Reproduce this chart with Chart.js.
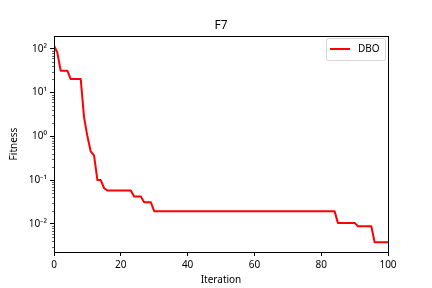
<!DOCTYPE html>
<html>
<head>
<meta charset="utf-8">
<script src="https://cdn.jsdelivr.net/npm/chart.js@4.4.0/dist/chart.umd.min.js"></script>
<style>
html, body { margin: 0; padding: 0; background: #fff; }
</style>
</head>
<body>
<canvas id="myChart" width="432" height="288"></canvas>
<script>
const chartTitle = 'F7';
const seriesName = 'DBO';
const xLabel = 'Iteration';
const yLabel = 'Fitness';
const xTicks = [0, 20, 40, 60, 80, 100];
const yRange = [0.00227, 196];

// best fitness per iteration, 0..100
const fitness = [
    117, 82, 31.5, 31.5, 31.5, 20.3, 20.3, 20.3, 20.3, 2.7,
    1.0, 0.45, 0.36, 0.1, 0.1, 0.065, 0.058, 0.058, 0.058, 0.058,
    0.058, 0.058, 0.058, 0.058, 0.042, 0.042, 0.042, 0.031, 0.031, 0.031,
    0.0195, 0.0195, 0.0195, 0.0195, 0.0195, 0.0195, 0.0195, 0.0195, 0.0195, 0.0195,
    0.0195, 0.0195, 0.0195, 0.0195, 0.0195, 0.0195, 0.0195, 0.0195, 0.0195, 0.0195,
    0.0195, 0.0195, 0.0195, 0.0195, 0.0195, 0.0195, 0.0195, 0.0195, 0.0195, 0.0195,
    0.0195, 0.0195, 0.0195, 0.0195, 0.0195, 0.0195, 0.0195, 0.0195, 0.0195, 0.0195,
    0.0195, 0.0195, 0.0195, 0.0195, 0.0195, 0.0195, 0.0195, 0.0195, 0.0195, 0.0195,
    0.0195, 0.0195, 0.0195, 0.0195, 0.0195, 0.0105, 0.0105, 0.0105, 0.0105, 0.0105,
    0.0105, 0.0088, 0.0088, 0.0088, 0.0088, 0.0088, 0.0038, 0.0038, 0.0038, 0.0038,
    0.0038
];

const FONT = "'Noto Sans', 'DejaVu Sans', sans-serif";
const sup = { '-': '\u207B', '0': '\u2070', '1': '\u00B9', '2': '\u00B2', '3': '\u00B3' };

function isDecade(v) {
    const l = Math.log10(v);
    return Math.abs(l - Math.round(l)) < 1e-9;
}

const framePlugin = {
    id: 'frame',
    afterDraw(chart) {
        const ctx = chart.ctx;
        const a = chart.chartArea;
        const ys = chart.scales.y;
        ctx.save();
        // minor ticks on the log axis
        ctx.strokeStyle = '#000';
        ctx.lineWidth = 0.6;
        ys.ticks.forEach(t => {
            if (isDecade(t.value)) return;
            const py = Math.round(ys.getPixelForValue(t.value)) + 0.5;
            ctx.beginPath();
            ctx.moveTo(a.left, py);
            ctx.lineTo(a.left - 2, py);
            ctx.stroke();
        });
        // axes box
        ctx.lineWidth = 1;
        ctx.strokeRect(Math.round(a.left) + 0.5, Math.round(a.top) + 0.5,
            Math.round(a.right - a.left), Math.round(a.bottom - a.top));
        // title
        ctx.fillStyle = '#000';
        ctx.font = '12px ' + FONT;
        ctx.textAlign = 'center';
        ctx.textBaseline = 'middle';
        ctx.fillText(chartTitle, (a.left + a.right) / 2, a.top - 10);
        // legend
        const bw = 59, bh = 22;
        const bx = a.right - 3 - bw, by = a.top + 2;
        ctx.beginPath();
        ctx.roundRect(bx + 0.5, by + 0.5, bw, bh, 2);
        ctx.fillStyle = 'rgba(255,255,255,0.8)';
        ctx.fill();
        ctx.strokeStyle = '#d6d6d6';
        ctx.lineWidth = 1;
        ctx.stroke();
        ctx.strokeStyle = '#ff0000';
        ctx.lineWidth = 2;
        ctx.beginPath();
        ctx.moveTo(bx + 4, by + bh / 2);
        ctx.lineTo(bx + 24, by + bh / 2);
        ctx.stroke();
        ctx.fillStyle = '#000';
        ctx.font = '10px ' + FONT;
        ctx.textAlign = 'left';
        ctx.fillText(seriesName, bx + 32, by + bh / 2 + 0.5);
        ctx.restore();
    }
};

const ctx = document.getElementById('myChart').getContext('2d');
const myChart = new Chart(ctx, {
    type: 'line',
    data: {
        datasets: [{
            label: seriesName,
            data: fitness.map((v, i) => ({ x: i, y: v })),
            borderColor: '#ff0000',
            borderWidth: 2,
            borderJoinStyle: 'round',
            pointRadius: 0,
            tension: 0,
            fill: false
        }]
    },
    options: {
        responsive: false,
        animation: false,
        layout: { padding: { left: 0, right: 44, top: 36, bottom: 0 } },
        plugins: {
            legend: { display: false },
            title: { display: false },
            tooltip: { enabled: false }
        },
        scales: {
            x: {
                type: 'linear',
                min: 0,
                max: 100,
                afterBuildTicks: scale => { scale.ticks = xTicks.map(v => ({ value: v })); },
                afterFit: scale => { scale.height = 36; },
                grid: { drawOnChartArea: false, drawTicks: true, tickLength: 4, tickColor: '#000' },
                border: { display: false },
                ticks: {
                    color: '#000',
                    font: { family: FONT, size: 10 },
                    padding: 3,
                    maxRotation: 0,
                    autoSkip: false
                },
                title: {
                    display: true,
                    text: xLabel,
                    color: '#000',
                    font: { family: FONT, size: 10 },
                    padding: { top: 0, bottom: 1.5 }
                }
            },
            y: {
                type: 'logarithmic',
                min: yRange[0],
                max: yRange[1],
                afterBuildTicks: scale => {
                    const ticks = [];
                    for (let e = -3; e <= 2; e++) {
                        for (let m = 1; m <= 9; m++) {
                            const v = m * Math.pow(10, e);
                            if (v >= scale.min && v <= scale.max) ticks.push({ value: v });
                        }
                    }
                    scale.ticks = ticks;
                },
                afterFit: scale => { scale.width = 54; },
                grid: {
                    drawOnChartArea: false,
                    drawTicks: true,
                    tickLength: 4,
                    tickColor: c => (c.tick && isDecade(c.tick.value)) ? '#000' : 'rgba(0,0,0,0)'
                },
                border: { display: false },
                ticks: {
                    color: '#000',
                    font: { family: FONT, size: 10 },
                    padding: 3,
                    autoSkip: false,
                    callback: v => {
                        if (!isDecade(v)) return '';
                        const e = String(Math.round(Math.log10(v)));
                        return '10' + e.split('').map(ch => sup[ch]).join('');
                    }
                },
                title: {
                    display: true,
                    text: yLabel,
                    color: '#000',
                    font: { family: FONT, size: 10 },
                    padding: { top: 8, bottom: 0 }
                }
            }
        }
    },
    plugins: [framePlugin]
});
</script>
</body>
</html>
